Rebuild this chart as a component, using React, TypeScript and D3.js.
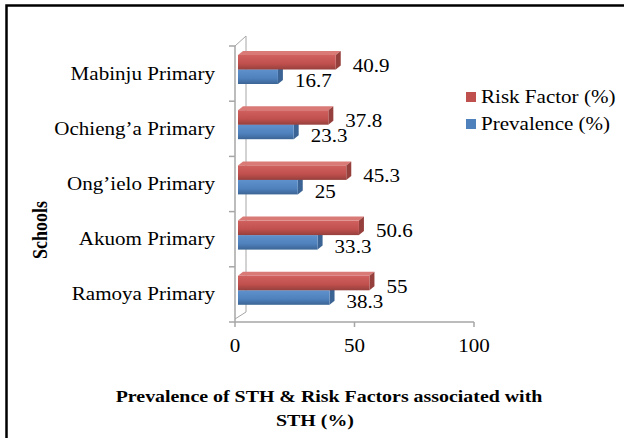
import * as d3 from "d3";
import React from "react";

// chart values
const schools = ["Mabinju Primary", "Ochieng’a Primary", "Ong’ielo Primary", "Akuom Primary", "Ramoya Primary"];
const riskFactor = [40.9, 37.8, 45.3, 50.6, 55];
const prevalence = [16.7, 23.3, 25, 33.3, 38.3];
const xTicks = [0, 50, 100];
const seriesNames = ["Risk Factor (%)", "Prevalence (%)"];

const W = 624;
const H = 438;
const SX = 1.17; // source text is a little wider than tall
const FONT = "'Liberation Serif', 'Times New Roman', serif";
const dx = 5;
const dy = -4;

const colors = {
  "Risk Factor (%)": { light: "#d0615e", base: "#c0504d", dark: "#96403d", top: "#d97a77" },
  "Prevalence (%)": { light: "#5f91cc", base: "#4f81bd", dark: "#3b6494", top: "#7aa1d2" },
};

function T({ x, y, anchor = "start", size = 18, bold = false, rotate = 0, children }: any) {
  return (
    <g transform={`translate(${x},${y}) scale(${SX},1) rotate(${rotate})`}>
      <text
        textAnchor={anchor}
        fontFamily={FONT}
        fontSize={size}
        fontWeight={bold ? "bold" : "normal"}
        fill="#000"
      >
        {children}
      </text>
    </g>
  );
}

export default function App() {
  const x = d3.scaleLinear().domain([0, 100]).range([235, 474]);
  const y = d3.scaleBand().domain(schools).range([46, 322]);
  const inner = d3.scaleBand().domain(seriesNames).range([9, 38]);
  const wallX = 11;
  const wallY = -10;
  const gray = "#a6a6a6";

  const rows = schools.map((s, i) => ({ school: s, values: [riskFactor[i], prevalence[i]] }));

  const bar = (key: string, v: number, y0: number, h: number, id: string) => {
    const x0 = x(0) + 3;
    const x1 = x(v) + 3;
    const c = colors[key];
    return (
      <g key={id}>
        <polygon
          points={`${x0},${y0} ${x0 + dx},${y0 + dy} ${x1 + dx},${y0 + dy} ${x1},${y0}`}
          fill={c.top}
        />
        <polygon
          points={`${x1},${y0} ${x1 + dx},${y0 + dy} ${x1 + dx},${y0 + h + dy} ${x1},${y0 + h}`}
          fill={c.dark}
        />
        <rect x={x0} y={y0} width={x1 - x0} height={h} fill={`url(#g${key === seriesNames[0] ? "r" : "b"})`} />
      </g>
    );
  };

  return (
    <svg width={W} height={H} style={{ position: "absolute", left: 0, top: 0, background: "#fff" }}>
      <defs>
        {(["r", "b"] as const).map((k) => {
          const c = colors[k === "r" ? seriesNames[0] : seriesNames[1]];
          return (
            <linearGradient key={k} id={`g${k}`} x1="0" y1="0" x2="0" y2="1">
              <stop offset="0%" stopColor={c.light} />
              <stop offset="60%" stopColor={c.base} />
              <stop offset="100%" stopColor={c.dark} />
            </linearGradient>
          );
        })}
      </defs>

      {/* frame */}
      <path d={`M6.5,${H} V5.5 H${W}`} fill="none" stroke="#000" strokeWidth={2.5} />

      {/* back wall and floor edges */}
      <line x1={x(0)} y1={y.range()[0]} x2={x(0) + wallX} y2={y.range()[0] + wallY} stroke={gray} />
      <line x1={x(0) + wallX} y1={y.range()[0] + wallY} x2={x(0) + wallX} y2={y.range()[1] + wallY} stroke={gray} />
      <line x1={x(0)} y1={y.range()[1] - 3} x2={x(0) + wallX} y2={y.range()[1] + wallY} stroke={gray} />

      {/* y axis */}
      <line x1={x(0)} y1={y.range()[0]} x2={x(0)} y2={y.range()[1]} stroke={gray} strokeWidth={1.5} />
      {[...schools.map((s) => y(s)!), y.range()[1]].map((v, i) => (
        <line key={i} x1={x(0) - 6} x2={x(0)} y1={v} y2={v} stroke={gray} strokeWidth={1.5} />
      ))}

      {/* x axis */}
      <line x1={x(0)} x2={x(100)} y1={y.range()[1]} y2={y.range()[1]} stroke={gray} strokeWidth={1.5} />
      {xTicks.map((t) => (
        <g key={t}>
          <line x1={x(t)} x2={x(t)} y1={y.range()[1]} y2={y.range()[1] + 5} stroke={gray} strokeWidth={1.5} />
          <T x={x(t)} y={352} anchor="middle">
            {t}
          </T>
        </g>
      ))}

      {/* bars */}
      {rows.map((r) => {
        const b = y(r.school)!;
        return (
          <g key={r.school}>
            {[1, 0].map((j) =>
              bar(seriesNames[j], r.values[j], b + inner(seriesNames[j])!, inner.bandwidth(), r.school + j)
            )}
          </g>
        );
      })}

      {/* data labels */}
      {rows.map((r) => {
        const b = y(r.school)!;
        return seriesNames.map((sn, j) => (
          <T key={r.school + sn} x={x(r.values[j]) + 3 + dx + 12} y={b + inner(sn)! + inner.bandwidth() / 2 + (j === 0 ? 9.5 : 10.5)}>
            {String(r.values[j])}
          </T>
        ));
      })}

      {/* category labels */}
      {schools.map((s) => (
        <T key={s} x={215} y={y(s)! + y.bandwidth() / 2 + 6} anchor="end">
          {s}
        </T>
      ))}

      {/* legend */}
      {seriesNames.map((sn, i) => (
        <g key={sn}>
          <rect x={466} y={92 + i * 27} width={10} height={10} fill={colors[sn].base} />
          <T x={481} y={103 + i * 27}>
            {sn}
          </T>
        </g>
      ))}

      {/* axis titles */}
      <T x={47} y={230} anchor="middle" size={18} bold rotate={-90}>
        Schools
      </T>
      <T x={329} y={402} anchor="middle" size={17} bold>
        Prevalence of STH &amp; Risk Factors associated with
      </T>
      <T x={315} y={426} anchor="middle" size={17} bold>
        STH (%)
      </T>
    </svg>
  );
}
